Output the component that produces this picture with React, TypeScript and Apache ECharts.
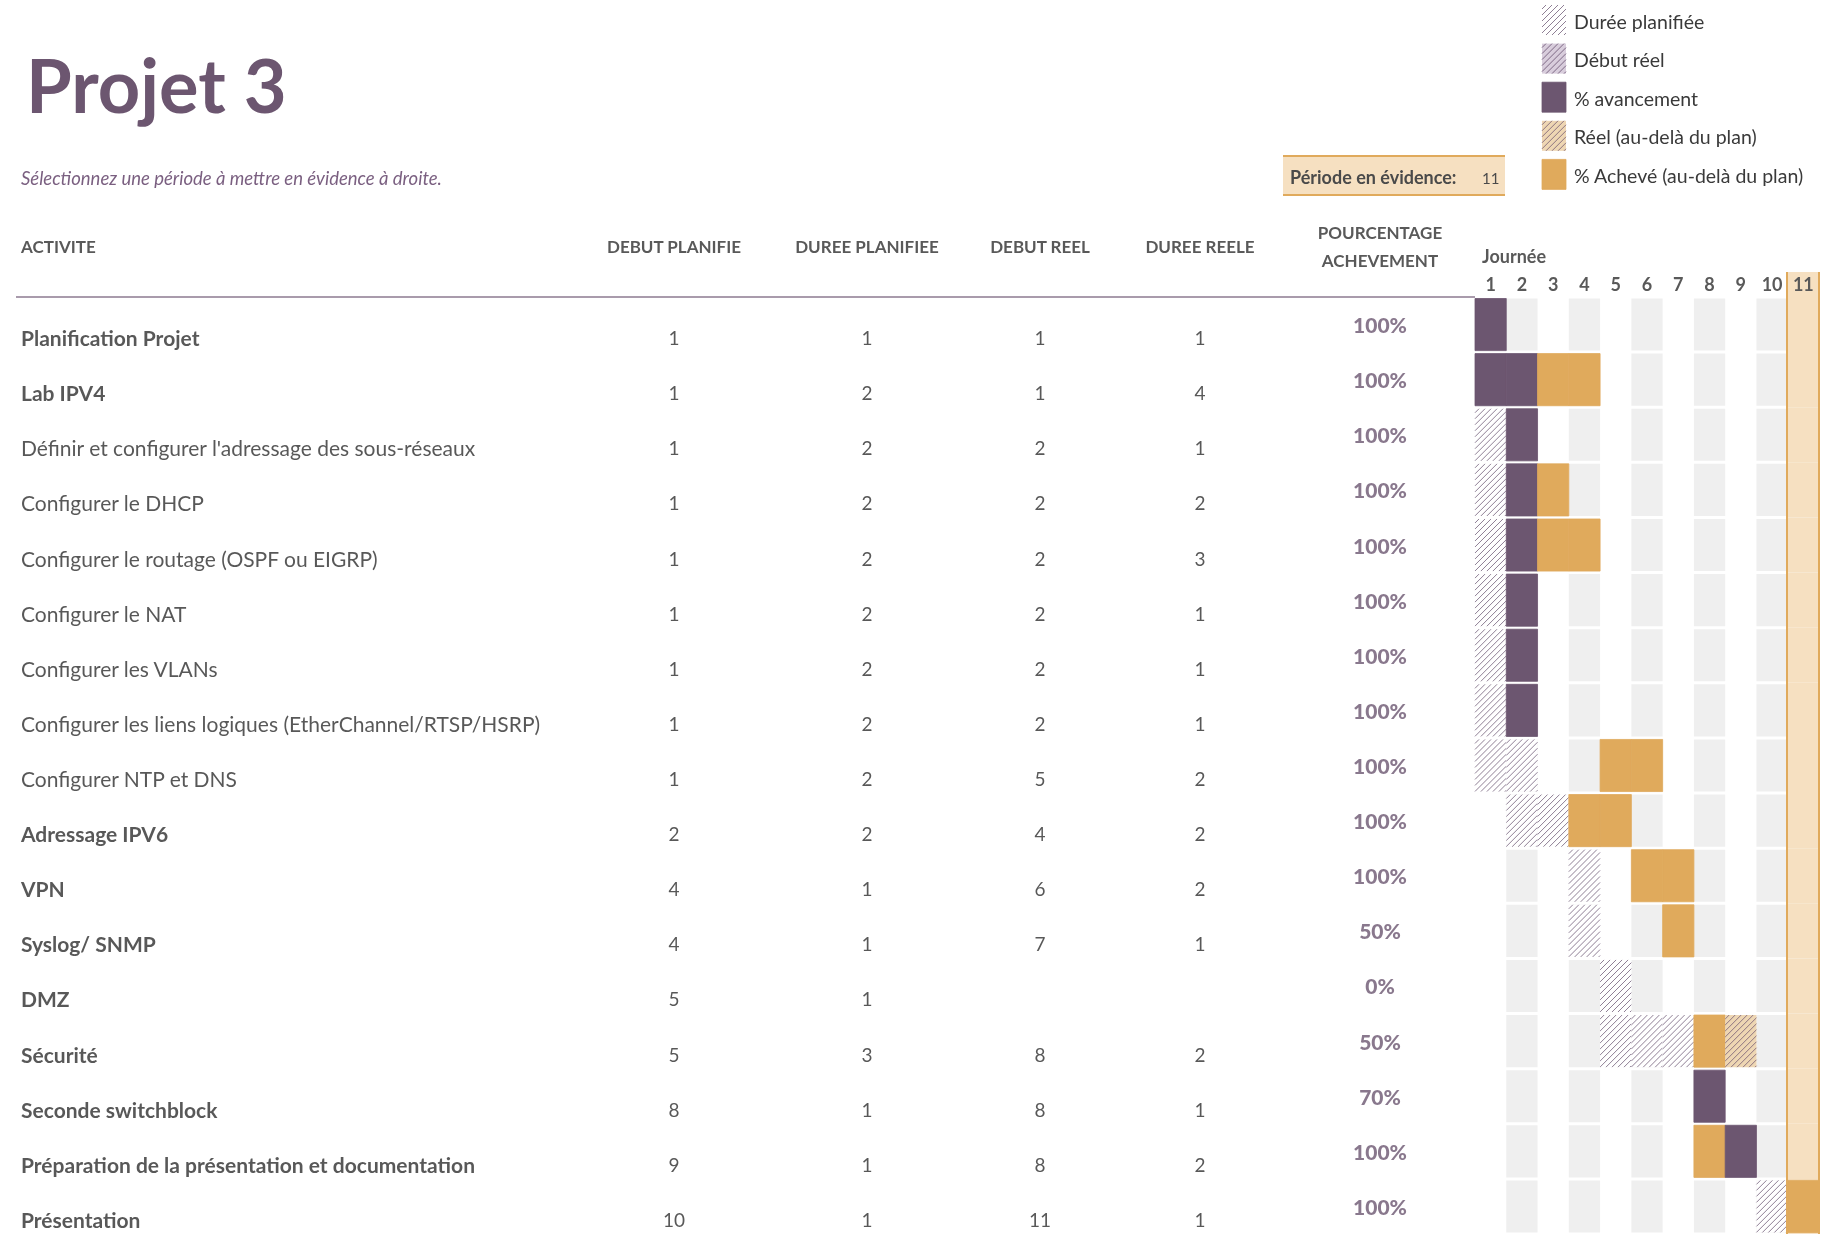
import * as echarts from "echarts"
import { useEffect, useRef } from "react"

const activities = [
  "Planification Projet",
  "Lab IPV4",
  "Définir et configurer l'adressage des sous-réseaux",
  "Configurer le DHCP",
  "Configurer le routage (OSPF ou EIGRP)",
  "Configurer le NAT",
  "Configurer les VLANs",
  "Configurer les liens logiques (EtherChannel/RTSP/HSRP)",
  "Configurer NTP et DNS",
  "Adressage IPV6",
  "VPN",
  "Syslog/ SNMP",
  "DMZ",
  "Sécurité",
  "Seconde switchblock",
  "Préparation de la présentation et documentation",
  "Présentation",
]
const boldRows = [true, true, false, false, false, false, false, false, false, true, true, true, true, true, true, true, true]
const planStart = [1, 1, 1, 1, 1, 1, 1, 1, 1, 2, 4, 4, 5, 5, 8, 9, 10]
const planDuration = [1, 2, 2, 2, 2, 2, 2, 2, 2, 2, 1, 1, 1, 3, 1, 1, 1]
const actualStart: (number | null)[] = [1, 1, 2, 2, 2, 2, 2, 2, 5, 4, 6, 7, null, 8, 8, 8, 11]
const actualDuration: (number | null)[] = [1, 4, 1, 2, 3, 1, 1, 1, 2, 2, 2, 1, null, 2, 1, 2, 1]
const percentDone = [100, 100, 100, 100, 100, 100, 100, 100, 100, 100, 100, 50, 0, 50, 70, 100, 100]
const days = ["1", "2", "3", "4", "5", "6", "7", "8", "9", "10", "11"]
const highlightDay = 11
const columnHeaders = ["DEBUT PLANIFIE", "DUREE PLANIFIEE", "DEBUT REEL", "DUREE REELE"]
const columnCenters = [674, 867, 1040, 1200]
const legendItems = ["Durée planifiée", "Début réel", "% avancement", "Réel (au-delà du plan)", "% Achevé (au-delà du plan)"]

const PURPLE = "#6c5670"
const ORANGE = "#e0aa5c"
const TAN = "#f6e0c1"
const GREY = "#595959"
const FONT = "Lato, 'Open Sans', sans-serif"

type Kind = "plan" | "start" | "done" | "over" | "overHatch"

const kindStyle: Record<Kind, { fill: string; hatch?: string }> = {
  plan: { fill: "#ffffff", hatch: "#8f7f95" },
  start: { fill: "#d8cddc", hatch: "#7d6884" },
  done: { fill: PURPLE },
  over: { fill: ORANGE },
  overHatch: { fill: "#eed6b3", hatch: "#8d7480" },
}

function hatchLines(x: number, y: number, w: number, h: number, color: string) {
  const out: any[] = []
  for (let c = x + y + 4; c < x + w + y + h; c += 6) {
    const y1 = Math.min(y + h, c - x)
    const y2 = Math.max(y, c - (x + w))
    out.push({
      type: "line",
      shape: { x1: c - y1, y1, x2: c - y2, y2 },
      style: { stroke: color, lineWidth: 1 },
      silent: true,
    })
  }
  return out
}

function cellShapes(x: number, y: number, w: number, h: number, kind: Kind) {
  const s = kindStyle[kind]
  const items: any[] = [{ type: "rect", shape: { x, y, width: w, height: h }, style: { fill: s.fill, stroke: s.hatch ? null : s.fill, lineWidth: 0.8 } }]
  if (s.hatch) items.push(...hatchLines(x, y, w, h, s.hatch))
  return items
}

function barCells() {
  const cells: [number, number, Kind][] = []
  activities.forEach((_, row) => {
    const ps = planStart[row]
    const pe = ps + planDuration[row]
    const as = actualStart[row]
    const ad = actualDuration[row] ?? 0
    for (let d = 1; d <= days.length; d++) {
      const inPlan = d >= ps && d < pe
      const inActual = as != null && d >= as && d < as + ad
      let kind: Kind | null = null
      if (inActual) {
        const complete = d < (as as number) + (ad * percentDone[row]) / 100
        kind = complete ? (inPlan ? "done" : "over") : inPlan ? "start" : "overHatch"
      } else if (inPlan) kind = "plan"
      if (kind) cells.push([d - 1, row, kind])
    }
  })
  return cells
}

const rows = activities.map((_, i) => String(i))

export default function App() {
  const node = useRef<HTMLDivElement>(null)

  useEffect(() => {
    if (!node.current) return
    const chart = echarts.init(node.current, undefined, { renderer: "svg" })
    const top = 297
    const bottom = 14
    const cells = barCells()
    const graphic: any[] = [
      { type: "text", x: 26, y: 84, style: { text: "Projet 3", fontSize: 74, fontWeight: "bold", fontFamily: FONT, fill: PURPLE, verticalAlign: "middle" } },
      { type: "text", x: 21, y: 178, style: { text: "Sélectionnez une période à mettre en évidence à droite.", fontSize: 18.5, fontStyle: "italic", fontFamily: FONT, fill: "#7a5f80", verticalAlign: "middle" } },
      { type: "rect", shape: { x: 1283, y: 156, width: 222, height: 39 }, style: { fill: TAN } },
      { type: "line", shape: { x1: 1283, y1: 156, x2: 1505, y2: 156 }, style: { stroke: ORANGE, lineWidth: 2 } },
      { type: "line", shape: { x1: 1283, y1: 195, x2: 1505, y2: 195 }, style: { stroke: ORANGE, lineWidth: 2 } },
      { type: "text", x: 1290, y: 177, style: { text: "Période en évidence:", fontSize: 18, fontWeight: "bold", fontFamily: FONT, fill: "#4a4a4a", verticalAlign: "middle" } },
      { type: "text", x: 1482, y: 178, style: { text: String(highlightDay), fontSize: 15, fontFamily: FONT, fill: "#4a4a4a", verticalAlign: "middle" } },
      { type: "text", x: 21, y: 246, style: { text: "ACTIVITE", fontSize: 17, fontWeight: "bold", fontFamily: FONT, fill: GREY, verticalAlign: "middle" } },
      ...columnHeaders.map((t, i) => ({ type: "text", x: columnCenters[i], y: 246, style: { text: t, fontSize: 17, fontWeight: "bold", fontFamily: FONT, fill: GREY, align: "center", verticalAlign: "middle" } })),
      { type: "text", x: 1380, y: 232, style: { text: "POURCENTAGE", fontSize: 17, fontWeight: "bold", fontFamily: FONT, fill: GREY, align: "center", verticalAlign: "middle" } },
      { type: "text", x: 1380, y: 260, style: { text: "ACHEVEMENT", fontSize: 17, fontWeight: "bold", fontFamily: FONT, fill: GREY, align: "center", verticalAlign: "middle" } },
      { type: "text", x: 1514, y: 256, style: { text: "Journée", fontSize: 18, fontWeight: "bold", fontFamily: FONT, fill: GREY, align: "center", verticalAlign: "middle" } },
      { type: "rect", shape: { x: 1787, y: 272, width: 32, height: 25 }, style: { fill: TAN }, z: -1 },
      { type: "line", shape: { x1: 1787, y1: 272, x2: 1787, y2: 1234 }, style: { stroke: ORANGE, lineWidth: 2 }, z: 10 },
      { type: "line", shape: { x1: 1819, y1: 272, x2: 1819, y2: 1234 }, style: { stroke: ORANGE, lineWidth: 2 }, z: 10 },
      { type: "line", shape: { x1: 16, y1: top, x2: 1475, y2: top }, style: { stroke: "#8c7a91", lineWidth: 1.5 } },
    ]
    const legendKinds: Kind[] = ["plan", "start", "done", "overHatch", "over"]
    legendItems.forEach((t, i) => {
      const y = 5 + i * 38.6
      graphic.push({ type: "group", children: cellShapes(1542, y, 24, 30, legendKinds[i]) })
      graphic.push({ type: "text", x: 1574, y: y + 16, style: { text: t, fontSize: 19.5, fontFamily: FONT, fill: "#3a3a3a", verticalAlign: "middle" } })
    })

    const textStyle = { fontFamily: FONT, fontSize: 21, color: "#2e2e2e" }

    chart.setOption({
      animation: false,
      graphic,
      grid: [
        { left: 21, width: 500, top, bottom },
        { left: 0, right: 0, top, bottom },
        { left: 1475, right: 15, top, bottom },
      ],
      xAxis: [
        { gridIndex: 0, type: "value", min: 0, max: 1, show: false },
        { gridIndex: 1, type: "value", min: 0, max: 1834, show: false },
        {
          gridIndex: 2,
          type: "category",
          data: days,
          position: "top",
          axisLine: { show: false },
          axisTick: { show: false },
          axisLabel: { margin: 4, fontSize: 18, fontWeight: "bold", fontFamily: FONT, color: GREY },
        },
      ],
      yAxis: [0, 1, 2].map((g) => ({ gridIndex: g, type: "category", data: rows, inverse: true, show: false })),
      series: [
        {
          type: "scatter",
          xAxisIndex: 0,
          yAxisIndex: 0,
          symbolSize: 0,
          data: activities.map((a, i) => [0, i, a, boldRows[i] ? 1 : 0]),
          label: {
            show: true,
            position: "right",
            distance: 0,
            offset: [0, 13],
            formatter: (p: any) => (p.value[3] ? `{b|${p.value[2]}}` : `{n|${p.value[2]}}`),
            rich: {
              b: { ...textStyle, fontWeight: "bold" },
              n: textStyle,
            },
          },
        },
        {
          type: "scatter",
          xAxisIndex: 1,
          yAxisIndex: 1,
          symbolSize: 0,
          data: activities.flatMap((_, i) =>
            [planStart[i], planDuration[i], actualStart[i], actualDuration[i]]
              .map((v, c) => [columnCenters[c], i, v])
              .filter((d) => d[2] != null)
          ),
          label: { show: true, position: "inside", offset: [0, 13], formatter: (p: any) => String(p.value[2]), ...textStyle, fontSize: 19 },
        },
        {
          type: "scatter",
          xAxisIndex: 1,
          yAxisIndex: 1,
          symbolSize: 0,
          data: percentDone.map((v, i) => [1380, i, v]),
          label: { show: true, position: "inside", formatter: (p: any) => `${p.value[2]}%`, fontFamily: FONT, fontSize: 21, fontWeight: 900, color: PURPLE },
        },
        {
          type: "custom",
          xAxisIndex: 2,
          yAxisIndex: 2,
          silent: true,
          z: 1,
          data: rows.map((_, i) => [0, i]),
          renderItem: (_p: any, api: any) => {
            const row = api.value(1)
            const [w, h] = api.size([1, 1])
            const children: any[] = []
            days.forEach((_d, k) => {
              const c = api.coord([k, row])
              const day = k + 1
              if (day === highlightDay) {
                children.push({ type: "rect", shape: { x: c[0] - w / 2, y: c[1] - h / 2, width: w, height: h }, style: { fill: TAN } })
              } else if (day % 2 === 0) {
                children.push({ type: "rect", shape: { x: c[0] - w / 2, y: c[1] - h / 2 + 1.5, width: w, height: h - 3 }, style: { fill: "#efefef" } })
              }
            })
            return { type: "group", children }
          },
        },
        {
          type: "custom",
          xAxisIndex: 2,
          yAxisIndex: 2,
          silent: true,
          z: 2,
          data: cells,
          renderItem: (p: any, api: any) => {
            const c = api.coord([api.value(0), api.value(1)])
            const [w, h] = api.size([1, 1])
            const kind = cells[p.dataIndex][2]
            return { type: "group", children: cellShapes(c[0] - w / 2, c[1] - h / 2 + 1.5, w, h - 3, kind) }
          },
        },
      ],
    })
    return () => chart.dispose()
  }, [])

  return <div ref={node} style={{ position: "fixed", left: 0, top: 0, width: 1834, height: 1248 }} />
}
